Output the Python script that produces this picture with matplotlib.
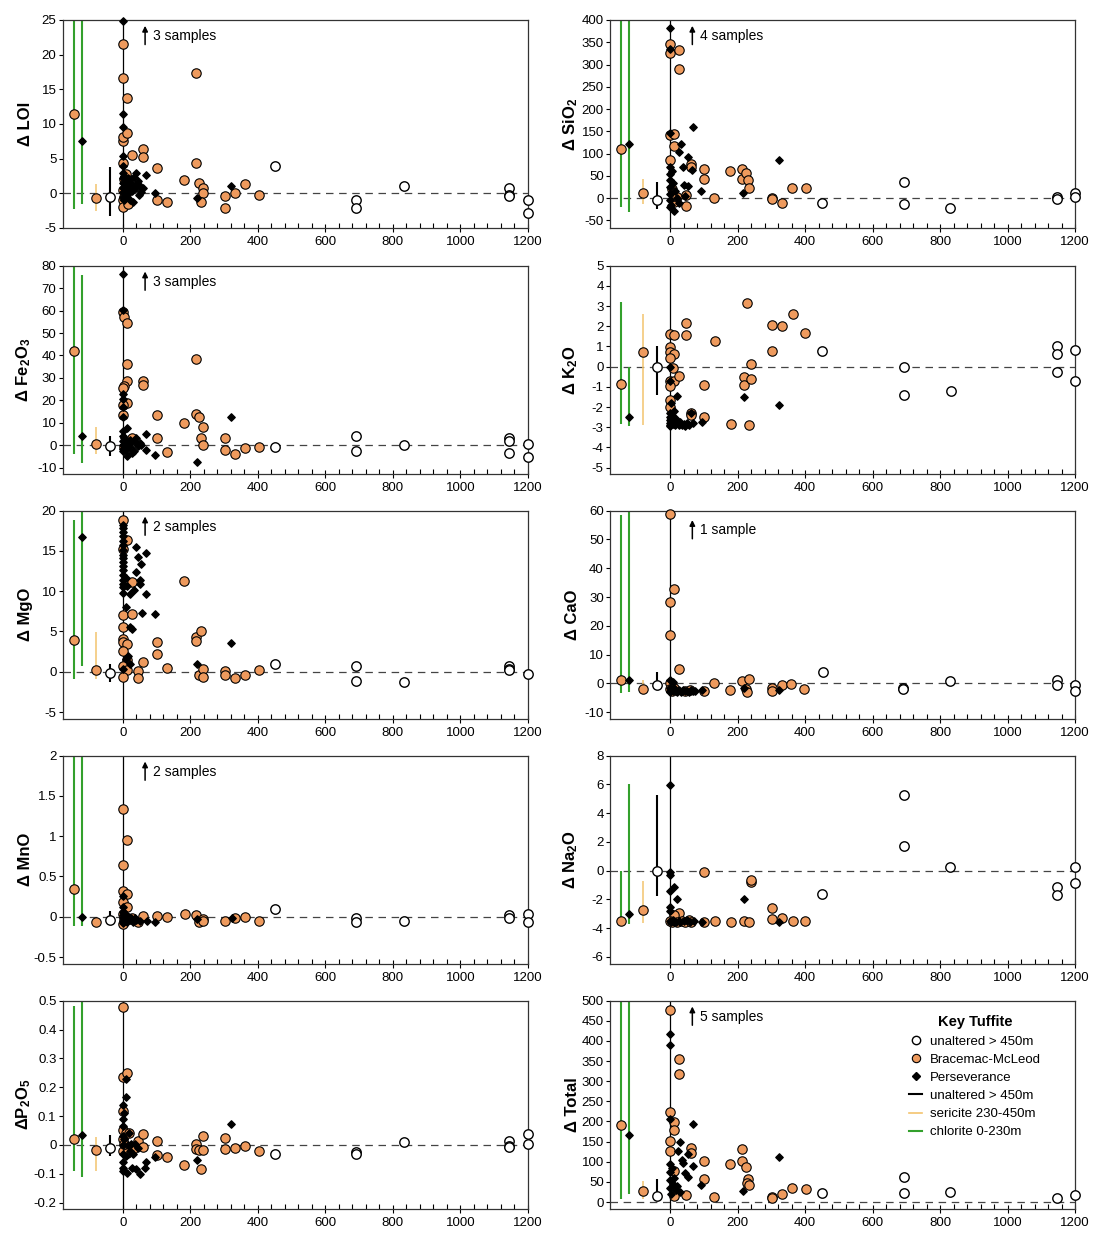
import numpy as np
import matplotlib
matplotlib.use('Agg')
import matplotlib.pyplot as plt
from matplotlib.ticker import FixedLocator, FuncFormatter
from matplotlib.lines import Line2D
from matplotlib.transforms import blended_transform_factory

plt.rcParams['font.family'] = ['Liberation Sans', 'DejaVu Sans']
plt.rcParams['mathtext.default'] = 'regular'

ORANGE = '#EE9A5D'
GREEN = '#33a02c'
YELLOW = '#F3C46E'

# range bars left of the 0 m line: chlorite (BM), chlorite (PV), sericite (BM), unaltered
bar_x = [-145, -122, -80, -38]
bar_colors = [GREEN, GREEN, YELLOW, 'black']
bar_widths = [1.5, 1.5, 1.1, 1.5]

# ---- LOI ----
loi_open_x = [452, 690, 690, 832, 1145, 1145, 1145, 1200, 1200]
loi_open_y = [3.9, -1.0, -2.1, 1.1, 0.8, -0.2, -0.4, -0.9, -2.9]
loi_bm_x = [0, 0, 0, 0, 0, 0, 0, 0, 3, 13, 13, 8, 10, 15, 27, 61, 61, 102, 102, 132, 180,
            217, 217, 226, 237, 237, 232, 302, 302, 332, 362, 402, 5, 20]
loi_bm_y = [21.5, 16.7, 7.6, 8.1, 4.4, -1.0, -2.0, 0.5, 2.0, 13.8, 8.7, 2.8, 1.2, -1.5, 5.6, 6.4,
            5.3, 3.6, -1.0, -1.2, 1.9, 17.3, 4.4, 1.5, 0.7, 0.0, -1.3, -0.4, -2.1, 0.1, 1.4, -0.2, -0.5, 1.0]
loi_pv_x = [0, 0, 0, 0, 0, 0, 0, 0, 0, 0, 0, 5, 8, 10, 12, 15, 18, 20, 22, 25, 28, 30, 35, 38,
            40, 45, 50, 55, 60, 69, 94, 220, 320, 3, 6, 14, 26, 33, 48]
loi_pv_y = [24.9, 11.4, 9.6, 5.4, 4.0, 3.0, 2.2, 1.5, 0.8, 0.2, -0.5, 2.5, 1.8, 1.0, -0.3, 2.2,
            0.5, 1.5, -1.0, 2.0, 0.3, -1.3, 1.2, 2.9, 0.7, 1.8, 1.0, 0.2, 0.8, 2.7, 0.0, -0.7, 1.1,
            -1.0, 1.4, 0.0, 0.6, 2.4, -0.2]
loi_bar_lo = [-2.2, -1.5, -2.5, -3.2]
loi_bar_hi = [25, 25, 1.3, 3.8]
loi_bar_mid = [11.5, 7.6, -0.7, -0.6]

# ---- SiO2 ----
sio2_open_x = [451, 692, 692, 831, 1148, 1148, 1200, 1200]
sio2_open_y = [-10, 37, -13, -22, 2, -3, 11, 2]
sio2_bm_x = [0, 0, 27, 27, 0, 13, 13, 0, 62, 62, 100, 100, 129, 179, 214, 214, 224, 230, 234,
             302, 302, 332, 362, 403, 48, 48, 13, 5, 20]
sio2_bm_y = [347, 326, 332, 291, 141, 143, 117, 85, 77, 71, 66, 42, 0, 62, 66, 42, 57, 40, 23,
             0, -3, -10, 23, 23, 8, -17, -9, 20, 2]
sio2_pv_x = [0, 0, 0, 0, 0, 0, 0, 0, 0, 0, 32, 27, 38, 41, 54, 54, 69, 66, 93, 215, 323, 11,
             5, 8, 15, 20, 25, 45, 3]
sio2_pv_y = [381, 336, 146, 70, 55, 40, 25, 10, -5, -20, 122, 103, 70, 30, 92, 28, 160, 64, 17,
             11, 86, -28, 60, 35, 15, 0, -10, 5, -15]
sio2_bar_lo = [-20, -30, -13, -24]
sio2_bar_hi = [400, 400, 42, 36]
sio2_bar_mid = [110, 121, 12, -4]

# ---- Fe2O3 ----
fe_open_x = [452, 690, 690, 832, 1145, 1145, 1145, 1200, 1200]
fe_open_y = [-0.7, 3.9, -2.5, 0.0, 3.0, 1.9, -3.3, 0.4, -5.1]
fe_bm_x = [0, 3, 13, 13, 13, 3, 0, 13, 0, 0, 27, 8, 3, 61, 61, 102, 102, 132, 180, 217, 217,
           226, 237, 232, 237, 302, 302, 332, 362, 402]
fe_bm_y = [59.3, 57, 54.5, 36.3, 28.5, 26.6, 25.5, 19, 17.9, 13.6, 3.1, 1.6, -1.0, 28.4, 26.9,
           13.6, 3.4, -3.0, 9.7, 38.4, 13.9, 12.4, 7.9, 3.1, 0.0, 3.4, -2.1, -3.7, -1.3, -1.0]
fe_pv_x = [0, 0, 0, 0, 0, 0, 0, 0, 0, 0, 0, 0, 13, 13, 5, 8, 10, 18, 20, 22, 27, 32, 35, 40,
           45, 50, 55, 69, 69, 94, 220, 320]
fe_pv_y = [76.1, 60.1, 22.8, 20.6, 16.9, 12.4, 6.4, 4.0, 2.0, 0.0, -1.5, -2.5, 7.5, -4.8, 3.0,
           1.0, -2.0, 0.5, 2.5, -1.0, -3.3, -2.5, 1.5, 3.1, -0.5, 1.2, 0.0, 5.2, -2.2, -4.2, -7.5, 12.4]
fe_bar_lo = [-4, -8, -4, -5]
fe_bar_hi = [80, 76, 8, 4]
fe_bar_mid = [42.2, 4.0, 0.4, -0.3]

# ---- K2O ----
k2o_open_x = [451, 692, 692, 834, 1148, 1148, 1148, 1200, 1200]
k2o_open_y = [0.77, 0.0, -1.4, -1.22, 1.02, 0.64, -0.26, 0.85, -0.72]
k2o_bm_x = [0, 13, 0, 0, 13, 0, 9, 0, 13, 0, 27, 48, 48, 62, 62, 100, 100, 132, 181, 229, 219,
            219, 239, 239, 234, 302, 302, 333, 364, 400, 0, 0, 5]
k2o_bm_y = [1.63, 1.58, 0.97, 0.72, 0.64, 0.44, -0.06, -0.69, -0.69, -0.94, -0.44, 2.16, 1.55,
            -2.3, -2.4, -0.9, -2.51, 1.25, -2.85, 3.17, -0.52, -0.89, -0.61, 0.14, -2.88, 2.08,
            0.8, 2.0, 2.6, 1.67, -1.64, -2.0, -2.6]
k2o_pv_x = [0, 0, 21, 62, 69, 94, 220, 323, 0, 0, 0, 0, 0, 0, 5, 8, 10, 13, 15, 18, 20, 25,
            30, 35, 40, 45, 50, 55, 3]
k2o_pv_y = [-0.03, -0.72, -1.46, -2.27, -2.8, -2.75, -1.52, -1.88, -2.3, -2.5, -2.65, -2.8,
            -2.9, -2.95, -2.4, -2.7, -2.85, -2.2, -2.9, -2.6, -2.8, -2.9, -2.75, -2.9, -2.85,
            -2.95, -2.8, -2.9, -1.8]
k2o_bar_lo = [-2.85, -2.93, -2.88, -1.38]
k2o_bar_hi = [3.2, 0.0, 2.63, 1.02]
k2o_bar_mid = [-0.85, -2.5, 0.75, -0.02]

# ---- MgO ----
mgo_open_x = [452, 690, 690, 832, 1145, 1145, 1145, 1200]
mgo_open_y = [1.0, 0.7, -1.1, -1.25, 0.7, 0.4, 0.2, -0.3]
mgo_bm_x = [0, 13, 0, 27, 0, 27, 0, 0, 0, 13, 0, 13, 61, 0, 13, 0, 45, 45, 102, 102, 132, 180,
            217, 217, 232, 226, 237, 237, 302, 302, 332, 362, 402]
mgo_bm_y = [18.8, 16.4, 15.2, 11.2, 7.1, 7.2, 5.5, 4.1, 3.7, 3.4, 2.6, 1.5, 1.25, 0.7, 0.25,
            -0.7, 0.05, -0.8, 3.7, 2.2, 0.45, 11.3, 4.3, 3.8, 5.0, -0.4, 0.3, -0.7, 0.1, -0.4,
            -0.8, -0.4, 0.25]
mgo_pv_x = [0, 0, 0, 0, 0, 0, 0, 0, 0, 0, 0, 0, 0, 0, 0, 0, 0, 8, 13, 8, 22, 22, 27, 40, 44,
            53, 51, 51, 40, 32, 69, 69, 56, 94, 220, 320, 0, 8, 15, 20]
mgo_pv_y = [18.2, 17.8, 17.4, 16.8, 16.2, 15.7, 15.1, 14.5, 14.1, 13.6, 13.1, 12.6, 12.0,
            11.4, 10.9, 10.5, 9.8, 11.6, 10.7, 8.0, 9.7, 5.5, 5.3, 15.5, 14.3, 13.4, 11.4, 10.9,
            12.4, 10.2, 14.7, 9.6, 7.3, 7.2, 1.0, 3.6, 0.3, 1.6, 2.0, 1.0]
mgo_bar_lo = [-0.9, 0.75, -0.9, -1.3]
mgo_bar_hi = [18.8, 20, 4.9, 1.0]
mgo_bar_mid = [3.95, 16.7, 0.25, -0.1]

# ---- CaO ----
cao_open_x = [453, 689, 689, 829, 1148, 1148, 1200, 1200]
cao_open_y = [4.0, -1.75, -2.1, 0.8, 1.0, -0.6, -0.7, -2.7]
cao_bm_x = [0, 13, 0, 0, 27, 0, 0, 5, 13, 45, 100, 129, 179, 214, 234, 224, 229, 302, 302,
            332, 358, 397, 60]
cao_bm_y = [58.8, 32.8, 28.4, 16.9, 4.9, 0.2, -2.0, -2.8, -1.5, -2.6, -2.7, 0.0, -2.4, 0.7,
            1.4, -2.1, -2.9, -1.5, -2.7, -0.6, -0.35, -2.1, -2.4]
cao_pv_x = [0, 0, 0, 0, 5, 8, 13, 18, 22, 27, 32, 38, 45, 50, 55, 62, 69, 75, 94, 220, 324, 10]
cao_pv_y = [1.0, -1.5, -2.5, -3.0, -2.2, -2.8, -1.5, -2.6, -3.0, -2.4, -2.9, -2.2, -2.7, -2.5,
            -2.9, -2.3, -2.6, -2.8, -2.4, -1.5, -2.4, 0.5]
cao_bar_lo = [-3.3, -3.0, -3.0, -0.7]
cao_bar_hi = [58.4, 60, 1.0, 4.0]
cao_bar_mid = [1.2, 1.0, -1.9, -0.6]

# ---- MnO ----
mno_open_x = [452, 690, 690, 832, 1145, 1145, 1200, 1200]
mno_open_y = [0.10, -0.01, -0.06, -0.05, 0.02, -0.01, 0.03, -0.06]
mno_bm_x = [0, 13, 0, 0, 13, 0, 13, 0, 0, 5, 27, 45, 61, 102, 132, 185, 217, 226, 237, 237,
            302, 332, 362, 402]
mno_bm_y = [1.34, 0.95, 0.64, 0.32, 0.28, 0.18, 0.12, 0.03, -0.09, -0.04, -0.01, -0.07, 0.01,
            0.01, 0.0, 0.04, 0.02, -0.07, -0.03, -0.05, -0.05, -0.02, 0.0, -0.05]
mno_pv_x = [0, 0, 0, 0, 0, 0, 0, 5, 8, 10, 13, 18, 20, 25, 30, 35, 40, 50, 73, 94, 220, 322]
mno_pv_y = [0.26, 0.12, 0.06, 0.02, -0.02, -0.05, -0.08, 0.05, -0.03, 0.02, -0.06, 0.0, -0.04,
            -0.02, -0.06, -0.01, -0.04, -0.05, -0.05, -0.07, -0.03, -0.02]
mno_bar_lo = [-0.11, -0.11, -0.09, -0.05]
mno_bar_hi = [2, 2, -0.05, 0.07]
mno_bar_mid = [0.34, 0.0, -0.07, -0.04]

# ---- Na2O ----
na2o_open_x = [451, 692, 692, 829, 1148, 1148, 1200, 1200]
na2o_open_y = [-1.62, 5.25, 1.71, 0.29, -1.15, -1.69, 0.29, -0.85]
na2o_bm_x = [100, 239, 239, 302, 302, 333, 364, 400, 100, 132, 181, 219, 234, 27, 13, 0, 5,
             20, 35, 45, 55, 62]
na2o_bm_y = [-0.06, -0.76, -0.62, -2.6, -3.37, -3.3, -3.5, -3.53, -3.6, -3.53, -3.6, -3.53,
             -3.6, -2.97, -3.09, -3.5, -3.6, -3.55, -3.5, -3.6, -3.45, -3.6]
na2o_pv_x = [0, 0, 0, 0, 13, 21, 0, 0, 220, 322, 0, 3, 8, 13, 18, 25, 30, 40, 50, 60, 70, 94]
na2o_pv_y = [5.95, -0.1, -0.33, -1.4, -1.1, -2.0, -2.5, -2.8, -2.0, -3.55, -3.5, -3.6, -3.45,
             -3.55, -3.6, -3.5, -3.55, -3.5, -3.45, -3.6, -3.5, -3.55]
na2o_bar_lo = [-3.6, -3.7, -3.67, -1.74]
na2o_bar_hi = [0.0, 6.0, -0.73, 5.25]
na2o_bar_mid = [-3.53, -3.02, -2.74, 0.0]

# ---- P2O5 ----
p2o5_open_x = [452, 690, 690, 832, 1145, 1145, 1145, 1200, 1200]
p2o5_open_y = [-0.031, -0.024, -0.03, 0.009, 0.015, -0.002, -0.008, 0.039, 0.002]
p2o5_bm_x = [0, 0, 13, 0, 0, 0, 0, 8, 13, 3, 18, 30, 45, 61, 61, 102, 102, 132, 180, 217, 217,
             226, 237, 237, 232, 302, 302, 332, 362, 402]
p2o5_bm_y = [0.477, 0.237, 0.249, 0.117, 0.053, 0.019, -0.02, 0.042, -0.028, 0.005, 0.04,
             -0.015, 0.013, 0.037, -0.007, 0.015, -0.034, -0.042, -0.071, 0.005, -0.014,
             -0.019, 0.031, -0.016, -0.085, 0.024, -0.013, -0.01, -0.005, -0.021]
p2o5_pv_x = [8, 8, 0, 0, 0, 0, 0, 0, 0, 0, 0, 13, 27, 51, 40, 68, 66, 94, 220, 320, 5, 10, 15,
             20, 25, 30, 35, 45, 3, 18]
p2o5_pv_y = [0.228, 0.166, 0.14, 0.09, 0.065, 0.03, 0.0, -0.03, -0.06, -0.08, -0.092, -0.098,
             -0.08, -0.1, -0.084, -0.059, -0.08, -0.043, -0.051, 0.071, 0.02, -0.04, 0.0, -0.02,
             0.005, -0.03, 0.002, -0.01, 0.11, 0.04]
p2o5_bar_lo = [-0.09, -0.11, -0.092, -0.037]
p2o5_bar_hi = [0.48, 0.5, 0.028, 0.036]
p2o5_bar_mid = [0.021, 0.036, -0.016, -0.01]

# ---- Total ----
tot_open_x = [451, 692, 692, 831, 1148, 1200]
tot_open_y = [22, 63, 22, 26, 9, 17]
tot_bm_x = [0, 0, 27, 27, 13, 13, 0, 0, 62, 62, 100, 100, 129, 179, 214, 214, 224, 232, 229,
            234, 302, 302, 332, 362, 403, 13, 13, 48]
tot_bm_y = [478, 223, 354, 319, 198, 180, 152, 127, 133, 122, 102, 58, 12, 94, 131, 102, 86,
            57, 48, 42, 13, 9, 19, 34, 32, 77, 15, 17]
tot_pv_x = [0, 0, 0, 30, 24, 69, 38, 54, 45, 69, 93, 215, 323, 0, 0, 0, 0, 5, 8, 13, 18, 22,
            30, 35, 54, 3]
tot_pv_y = [418, 389, 206, 148, 127, 194, 98, 61, 71, 90, 42, 27, 111, 95, 75, 55, 35, 85, 45,
            60, 30, 40, 25, 105, 120, 20]
tot_bar_lo = [8, 19, 7, 7]
tot_bar_hi = [500, 500, 52, 57]
tot_bar_mid = [191, 167, 27, 15]


def draw_panel(ax, open_x, open_y, bm_x, bm_y, pv_x, pv_y, lo, hi, mid,
               ylim, yticks, label, note=None, note_y=0.922):
    ax.set_xlim(-178, 1200)
    ax.set_ylim(*ylim)
    ax.axhline(0, color='#444444', lw=0.9, ls=(0, (6, 4.5)), zorder=1)
    ax.axvline(0, color='black', lw=0.9, zorder=1)

    for x, a, b, c, w in zip(bar_x, lo, hi, bar_colors, bar_widths):
        ax.plot([x, x], [a, b], color=c, lw=w, solid_capstyle='butt', zorder=2)
    ax.scatter([bar_x[0], bar_x[2]], [mid[0], mid[2]], s=46, c=ORANGE,
               edgecolors='black', linewidths=0.8, zorder=4, clip_on=False)
    ax.scatter([bar_x[1]], [mid[1]], s=14, marker='D', c='black', zorder=4, clip_on=False)
    ax.scatter([bar_x[3]], [mid[3]], s=46, c='white', edgecolors='black',
               linewidths=1.0, zorder=4, clip_on=False)

    ax.scatter(bm_x, bm_y, s=46, c=ORANGE, edgecolors='black', linewidths=0.8,
               zorder=3, clip_on=False)
    ax.scatter(pv_x, pv_y, s=14, marker='D', c='black', zorder=4, clip_on=False)
    ax.scatter(open_x, open_y, s=46, c='white', edgecolors='black', linewidths=1.0,
               zorder=4, clip_on=False)

    ax.yaxis.set_major_locator(FixedLocator(yticks))
    ax.yaxis.set_major_formatter(FuncFormatter(lambda v, p: '{:g}'.format(round(v, 3))))
    ax.xaxis.set_major_locator(FixedLocator(np.arange(0, 1201, 200)))
    ax.xaxis.set_minor_locator(FixedLocator([m for m in range(40, 1200, 40) if m % 200]))
    ax.tick_params(axis='y', direction='out', length=3, width=0.8, labelsize=9.5, pad=1.5)
    ax.tick_params(axis='x', which='major', direction='inout', length=5.5, width=0.8,
                   labelsize=9.5, pad=3)
    ax.tick_params(axis='x', which='minor', direction='in', length=3.3, width=0.8)
    for sp in ax.spines.values():
        sp.set_linewidth(0.9)
        sp.set_color('#333333')

    ax.set_ylabel(label, fontsize=12, fontweight='bold')
    ax.yaxis.set_label_coords(-0.064, 0.5)

    if note:
        tr = blended_transform_factory(ax.transData, ax.transAxes)
        ax.annotate('', xy=(66, note_y + 0.05), xytext=(66, note_y - 0.04),
                    xycoords=tr, textcoords=tr,
                    arrowprops=dict(arrowstyle='-|>', color='black', lw=1.1,
                                    mutation_scale=8, shrinkA=0, shrinkB=0))
        ax.text(88, note_y, note, transform=tr, va='center', ha='left', fontsize=10)


fig = plt.figure(figsize=(10.96, 12.33), dpi=100)
W, H = 1096.0, 1233.0
col_left = [62.7, 610.0]
col_width = [465.3, 465.0]
row_top = [20.0, 265.7, 510.7, 755.7, 1000.7]
panel_h = 208.0


def make_ax(col, row):
    left = col_left[col] / W
    bottom = 1 - (row_top[row] + panel_h) / H
    return fig.add_axes([left, bottom, col_width[col] / W, panel_h / H])


ax = make_ax(0, 0)
draw_panel(ax, loi_open_x, loi_open_y, loi_bm_x, loi_bm_y, loi_pv_x, loi_pv_y,
           loi_bar_lo, loi_bar_hi, loi_bar_mid, (-5, 25), np.arange(-5, 26, 5),
           'Δ LOI', '3 samples')

ax = make_ax(1, 0)
draw_panel(ax, sio2_open_x, sio2_open_y, sio2_bm_x, sio2_bm_y, sio2_pv_x, sio2_pv_y,
           sio2_bar_lo, sio2_bar_hi, sio2_bar_mid, (-67, 400), np.arange(-50, 401, 50),
           'Δ SiO$_2$', '4 samples')

ax = make_ax(0, 1)
draw_panel(ax, fe_open_x, fe_open_y, fe_bm_x, fe_bm_y, fe_pv_x, fe_pv_y,
           fe_bar_lo, fe_bar_hi, fe_bar_mid, (-12.7, 80), np.arange(-10, 81, 10),
           'Δ Fe$_2$O$_3$', '3 samples')

ax = make_ax(1, 1)
draw_panel(ax, k2o_open_x, k2o_open_y, k2o_bm_x, k2o_bm_y, k2o_pv_x, k2o_pv_y,
           k2o_bar_lo, k2o_bar_hi, k2o_bar_mid, (-5.3, 5), np.arange(-5, 6, 1),
           'Δ K$_2$O')

ax = make_ax(0, 2)
draw_panel(ax, mgo_open_x, mgo_open_y, mgo_bm_x, mgo_bm_y, mgo_pv_x, mgo_pv_y,
           mgo_bar_lo, mgo_bar_hi, mgo_bar_mid, (-5.83, 20), np.arange(-5, 21, 5),
           'Δ MgO', '2 samples')

ax = make_ax(1, 2)
draw_panel(ax, cao_open_x, cao_open_y, cao_bm_x, cao_bm_y, cao_pv_x, cao_pv_y,
           cao_bar_lo, cao_bar_hi, cao_bar_mid, (-12.3, 60), np.arange(-10, 61, 10),
           'Δ CaO', '1 sample', note_y=0.905)

ax = make_ax(0, 3)
draw_panel(ax, mno_open_x, mno_open_y, mno_bm_x, mno_bm_y, mno_pv_x, mno_pv_y,
           mno_bar_lo, mno_bar_hi, mno_bar_mid, (-0.583, 2), np.arange(-0.5, 2.01, 0.5),
           'Δ MnO', '2 samples')

ax = make_ax(1, 3)
draw_panel(ax, na2o_open_x, na2o_open_y, na2o_bm_x, na2o_bm_y, na2o_pv_x, na2o_pv_y,
           na2o_bar_lo, na2o_bar_hi, na2o_bar_mid, (-6.47, 8), np.arange(-6, 9, 2),
           'Δ Na$_2$O')

ax = make_ax(0, 4)
draw_panel(ax, p2o5_open_x, p2o5_open_y, p2o5_bm_x, p2o5_bm_y, p2o5_pv_x, p2o5_pv_y,
           p2o5_bar_lo, p2o5_bar_hi, p2o5_bar_mid, (-0.221, 0.5), np.arange(-0.2, 0.51, 0.1),
           'ΔP$_2$O$_5$')

ax = make_ax(1, 4)
draw_panel(ax, tot_open_x, tot_open_y, tot_bm_x, tot_bm_y, tot_pv_x, tot_pv_y,
           tot_bar_lo, tot_bar_hi, tot_bar_mid, (-16.6, 500), np.arange(0, 501, 50),
           'Δ Total', '5 samples')

handles = [
    Line2D([], [], marker='o', ls='none', mfc='white', mec='black', ms=6, mew=1.0),
    Line2D([], [], marker='o', ls='none', mfc=ORANGE, mec='black', ms=6, mew=0.8),
    Line2D([], [], marker='D', ls='none', color='black', ms=3.6),
    Line2D([], [], color='black', lw=1.5),
    Line2D([], [], color=YELLOW, lw=1.2),
    Line2D([], [], color=GREEN, lw=1.5),
]
labels = ['unaltered > 450m', 'Bracemac-McLeod', 'Perseverance',
          'unaltered > 450m', 'sericite 230-450m', 'chlorite 0-230m']
leg = ax.legend(handles, labels, loc='upper left', bbox_to_anchor=(0.632, 0.955),
                frameon=False, fontsize=9.5, handlelength=1.0, handletextpad=0.6,
                labelspacing=0.45, borderaxespad=0, title='Key Tuffite',
                title_fontproperties={'weight': 'bold', 'size': 10.5})

fig.savefig('out.png', dpi=100)
